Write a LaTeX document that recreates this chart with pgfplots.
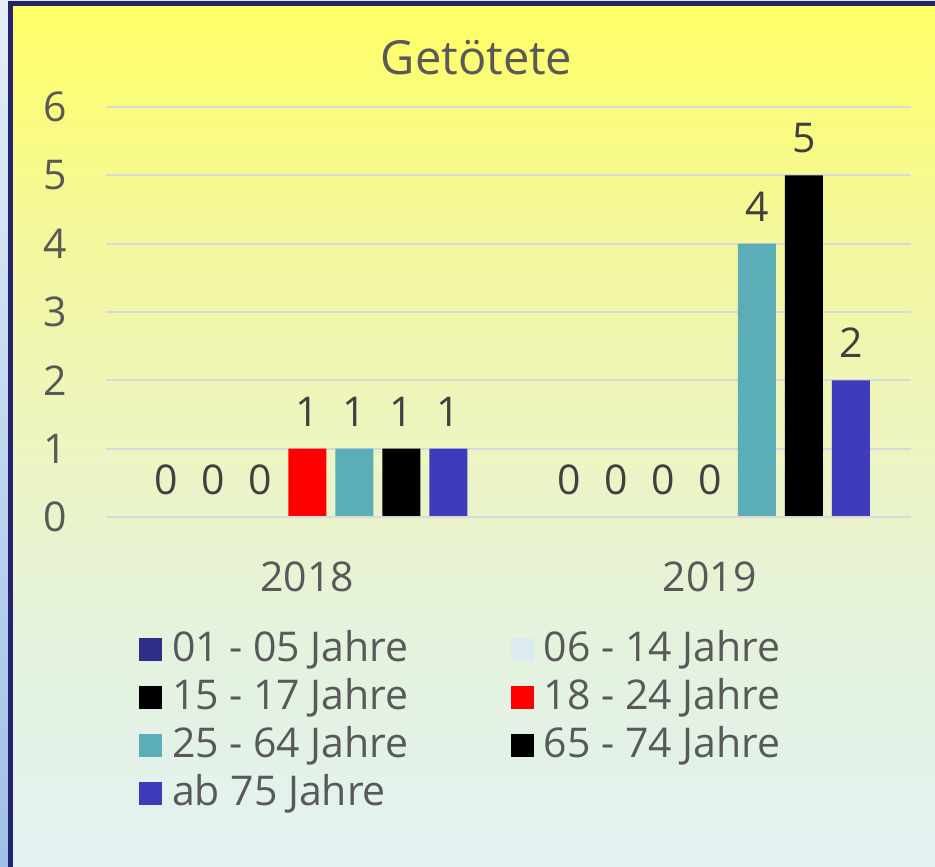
\documentclass[border=0pt]{standalone}
\usepackage{fontspec}
\setmainfont{Open Sans}
\usepackage{pgfplots}
\pgfplotsset{compat=1.18}
\definecolor{navyb}{HTML}{232370}
\definecolor{c1}{HTML}{2E2D88}
\definecolor{c2}{HTML}{DCEBEE}
\definecolor{c3}{HTML}{000000}
\definecolor{c4}{HTML}{FF0000}
\definecolor{c5}{HTML}{5BAEB8}
\definecolor{c6}{HTML}{000000}
\definecolor{c7}{HTML}{3E3CBC}
\definecolor{txt}{HTML}{595959}
\definecolor{lbl}{HTML}{404040}
\definecolor{gridc}{HTML}{D9D9D9}
\definecolor{bgA}{HTML}{FFFF66}
\definecolor{bgB}{HTML}{F3F7A0}
\definecolor{bgC}{HTML}{EDF5C0}
\definecolor{bgD}{HTML}{E5F2DC}
\definecolor{bgE}{HTML}{E2F2F2}
\definecolor{stripT}{HTML}{E6EEF8}
\definecolor{stripB}{HTML}{9EC0E8}
\pgfdeclareverticalshading{bgshade}{100bp}{color(0bp)=(bgE); color(25bp)=(bgE); color(39bp)=(bgD); color(50bp)=(bgC); color(60.5bp)=(bgB); color(75bp)=(bgA); color(100bp)=(bgA)}
\begin{document}
\begin{tikzpicture}
\useasboundingbox (0,0) rectangle (467.5pt,-433pt);
\fill[stripT] (0,0) rectangle (467.5pt,-433pt);
\shade[top color=stripT, bottom color=stripB] (0,0) rectangle (4pt,-433pt);
\shade[shading=bgshade] (6pt,-3pt) rectangle (467.5pt,-433pt);
\draw[navyb, line width=2.6pt, line join=miter] (5.25pt,-434pt) -- (5.25pt,-1.8pt) -- (468pt,-1.8pt);
\node[font=\fontsize{23.5}{28}\selectfont, text=txt] at (238.3pt,-29pt) {Getötete};
\begin{axis}[
  at={(53pt,-258.5pt)}, anchor=south west,
  scale only axis, width=402.5pt, height=205pt,
  xmin=-0.5, xmax=1.5, ymin=0, ymax=6,
  ybar=4.5pt, bar width=19pt,
  xtick={0,1}, xticklabels={2018,2019},
  ytick={0,1,2,3,4,5,6},
  ymajorgrids, major grid style={draw=gridc, line width=1pt},
  axis line style={draw=none}, tick style={draw=none},
  /pgf/number format/assume math mode=true,
  ticklabel style={font=\fontsize{20.5}{24}\selectfont, text=txt, inner sep=0pt},
  xticklabel style={anchor=north, yshift=-18pt},
  yticklabel style={anchor=east, xshift=-19.5pt},
  nodes near coords,
  every node near coord/.append style={font=\fontsize{20.5}{24}\selectfont, text=lbl, anchor=south, inner sep=0pt, yshift=11pt},
  legend columns=2,
  legend cell align=left,
  legend image code/.code={\fill[#1] (0pt,-7.3pt) rectangle (11.5pt,4.2pt);},
  legend style={at={(axis description cs:0.041,-0.2805)}, anchor=north west,
    draw=none, fill=none, inner sep=0pt, outer sep=0pt,
    font=\fontsize{20.5}{24}\selectfont, text=txt,
    row sep=9.4pt,
    nodes={inner sep=0pt, text height=14.6pt, text depth=0pt},
    /tikz/every odd column/.append style={column sep=5pt},
    /tikz/every even column/.append style={column sep=51pt}},
]
\addplot[fill=c1, draw=none] coordinates {(0,0) (1,0)};
\addlegendentry{01 - 05 Jahre}
\addplot[fill=c2, draw=none] coordinates {(0,0) (1,0)};
\addlegendentry{06 - 14 Jahre}
\addplot[fill=c3, draw=none] coordinates {(0,0) (1,0)};
\addlegendentry{15 - 17 Jahre}
\addplot[fill=c4, draw=none] coordinates {(0,1) (1,0)};
\addlegendentry{18 - 24 Jahre}
\addplot[fill=c5, draw=none] coordinates {(0,1) (1,4)};
\addlegendentry{25 - 64 Jahre}
\addplot[fill=c6, draw=none] coordinates {(0,1) (1,5)};
\addlegendentry{65 - 74 Jahre}
\addplot[fill=c7, draw=none] coordinates {(0,1) (1,2)};
\addlegendentry{ab 75 Jahre}
\draw[gridc, line width=1pt] (rel axis cs:0,0) -- (rel axis cs:1,0);
\end{axis}
\end{tikzpicture}
\end{document}
